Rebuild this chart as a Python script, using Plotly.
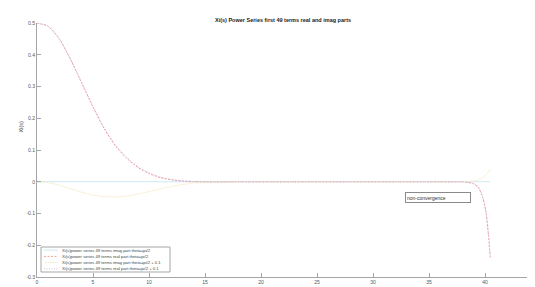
import plotly.graph_objects as go

# ---- data ----
s_vals = [0, 1, 2, 3, 4, 5, 6, 7, 8, 9, 10, 11, 12, 13, 14, 15, 16, 17, 18, 19,
          20, 21, 22, 23, 24, 25, 26, 27, 28, 29, 30, 31, 32, 33, 34, 35, 36, 37,
          38, 38.5, 39, 39.4, 39.8, 40.1, 40.3, 40.47]

imag_pi2 = [0.0, 0.0, 0.0, 0.0, 0.0, 0.0, 0.0, 0.0, 0.0, 0.0, 0.0, 0.0, 0.0, 0.0,
            0.0, 0.0, 0.0, 0.0, 0.0, 0.0, 0.0, 0.0, 0.0, 0.0, 0.0, 0.0, 0.0, 0.0,
            0.0, 0.0, 0.0, 0.0, 0.0, 0.0, 0.0, 0.0, 0.0, 0.0, 0.0, 0.0, 0.0, 0.0,
            0.0, 0.0, 0.0, 0.0]

real_pi2 = [0.5, 0.49, 0.45, 0.385, 0.31, 0.235, 0.167, 0.113, 0.074, 0.045,
            0.026, 0.013, 0.006, 0.002, 0.0, -0.001, -0.001, -0.0005, 0.0, 0.0,
            0.0, 0.0, 0.0, 0.0, 0.0, 0.0, 0.0, 0.0, 0.0, 0.0, 0.0, 0.0, 0.0, 0.0,
            0.0, 0.0, 0.0, 0.0, 0.0, -0.002, -0.007, -0.018, -0.05, -0.10,
            -0.166, -0.24]

imag_pi2_01 = [0.0, -0.003, -0.011, -0.022, -0.033, -0.042, -0.047, -0.048,
               -0.045, -0.039, -0.031, -0.023, -0.015, -0.009, -0.004, -0.002,
               -0.001, 0.0, 0.0, 0.0, 0.0, 0.0, 0.0, 0.0, 0.0, 0.0, 0.0, 0.0,
               0.0, 0.0, 0.0, 0.0, 0.0, 0.0, 0.0, 0.0, 0.0, 0.0, 0.0, 0.001,
               0.003, 0.006, 0.014, 0.022, 0.03, 0.04]

real_pi2_01 = [0.5, 0.489, 0.449, 0.386, 0.312, 0.238, 0.17, 0.116, 0.077,
               0.048, 0.028, 0.015, 0.007, 0.003, 0.001, 0.0, 0.0, 0.0, 0.0,
               0.0, 0.0, 0.0, 0.0, 0.0, 0.0, 0.0, 0.0, 0.0, 0.0, 0.0, 0.0, 0.0,
               0.0, 0.0, 0.0, 0.0, 0.0, 0.0, 0.0, -0.002, -0.006, -0.016, -0.047,
               -0.095, -0.16, -0.235]

series_names = [
    "Xi(s)power series 49 terms imag part theta=pi/2",
    "Xi(s)power series 49 terms real part theta=pi/2",
    "Xi(s)power series 49 terms imag part theta=pi/2 + 0.1",
    "Xi(s)power series 49 terms real part theta=pi/2 + 0.1",
]

x_ticks = [0, 5, 10, 15, 20, 25, 30, 35, 40, 45]
x_ticklabels = ["0", "5", "10", "15", "20", "25", "30", "35", "40", "45"]
y_ticks = [-0.3, -0.2, -0.1, 0, 0.1, 0.2, 0.3, 0.4, 0.5]
y_ticklabels = ["-0.3", "-0.2", "-0.1", "0", "0.1", "0.2", "0.3", "0.4", "0.5"]

title_text = "Xi(s) Power Series first 49 terms real and imag parts"
ylabel_text = "Xi(s)"
note_text = "non-convergence"

# ---- styling ----
colors = ["#b4dff0", "#ec8a82", "#f5ebc6", "#c8a6dc"]
dashes = ["solid", "2px,1.5px", "solid", "1px,1.5px"]
widths = [0.7, 0.8, 0.7, 0.8]
series = [imag_pi2, real_pi2, imag_pi2_01, real_pi2_01]

W, H = 535, 287
PL, PR, PT, PB = 29, 533, 15, 269


def px(x):
    return (x - PL) / (PR - PL)


def py(y):
    return (PB - y) / (PB - PT)


fig = go.Figure()
for name, vals, c, d, w in zip(series_names, series, colors, dashes, widths):
    fig.add_trace(go.Scatter(
        x=s_vals, y=vals, mode="lines", name=name, showlegend=False,
        line=dict(color=c, width=w, dash=d, shape="spline", smoothing=0.6),
    ))

font_family = "Liberation Sans, Arial, sans-serif"
axis_common = dict(
    showgrid=False, zeroline=False, showline=True, linecolor="#a6a6a6",
    linewidth=1, ticks="inside", ticklen=4, tickwidth=1, tickcolor="#a6a6a6",
    tickfont=dict(family=font_family, size=5, color="#555555"),
    mirror=False,
)

fig.update_layout(
    width=W, height=H,
    margin=dict(l=PL, r=W - PR, t=PT, b=H - PB),
    paper_bgcolor="white", plot_bgcolor="white",
    xaxis=dict(range=[0, 45], tickvals=x_ticks, ticktext=x_ticklabels, **axis_common),
    yaxis=dict(range=[-0.3, 0.5], tickvals=y_ticks, ticktext=y_ticklabels, **axis_common),
    showlegend=False,
)

annotations = []
shapes = []

# title
annotations.append(dict(
    text="<b>" + title_text + "</b>", xref="paper", yref="paper",
    x=px(275), y=py(12), xanchor="center", yanchor="middle", showarrow=False,
    font=dict(family=font_family, size=5.5, color="#222222"),
))
# y label
annotations.append(dict(
    text=ylabel_text, xref="paper", yref="paper", x=px(12.5), y=py(119),
    xanchor="center", yanchor="middle", textangle=-90, showarrow=False,
    font=dict(family=font_family, size=5.5, color="#444444"),
))
# non-convergence box
annotations.append(dict(
    text=note_text, xref="paper", yref="paper", x=px(430), y=py(189.3),
    xanchor="center", yanchor="middle", showarrow=False, align="left",
    width=62, height=7, borderpad=1, borderwidth=1, bordercolor="#8a8a8a",
    bgcolor="white", font=dict(family=font_family, size=5, color="#333333"),
))

# manual legend
shapes.append(dict(
    type="rect", xref="paper", yref="paper", x0=px(33), x1=px(162),
    y0=py(264), y1=py(239), line=dict(color="#a6a6a6", width=1),
    fillcolor="white", layer="above",
))
rows = [242.1, 248.4, 254.6, 260.9]
for name, c, d, w, ry in zip(series_names, colors, dashes, widths, rows):
    shapes.append(dict(
        type="line", xref="paper", yref="paper", x0=px(36), x1=px(50),
        y0=py(ry), y1=py(ry), line=dict(color=c, width=w, dash=d), layer="above",
    ))
    annotations.append(dict(
        text=name, xref="paper", yref="paper", x=px(51.5), y=py(ry),
        xanchor="left", yanchor="middle", showarrow=False,
        font=dict(family=font_family, size=4.2, color="#444444"),
    ))

fig.update_layout(annotations=annotations, shapes=shapes)
fig.write_html("out.html")
